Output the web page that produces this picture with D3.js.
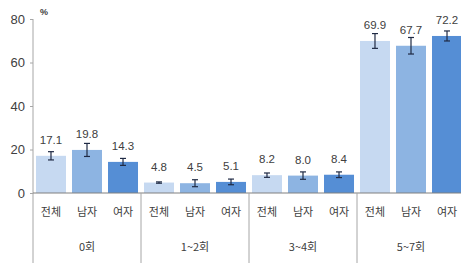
<!DOCTYPE html>
<html>
<head>
<meta charset="utf-8">
<script src="https://cdn.jsdelivr.net/npm/d3@7"></script>
<style>
  body { margin: 0; background: #fff; }
  text { font-family: "Liberation Sans Narrow", "Liberation Sans", Arial, sans-serif; }
  .kr { font-family: "Noto Sans CJK KR", sans-serif; }
</style>
</head>
<body>
<div class="chart"></div>
<script>
// categories
var groups = ["0회", "1~2회", "3~4회", "5~7회"];
var genders = ["전체", "남자", "여자"];
// values (%) per group, in gender order
var values = [
  [17.1, 19.8, 14.3],
  [4.8, 4.5, 5.1],
  [8.2, 8.0, 8.4],
  [69.9, 67.7, 72.2]
];
// half width of the error bars
var errors = [
  [1.9, 3.0, 1.6],
  [0.3, 1.6, 1.3],
  [1.0, 1.7, 1.3],
  [3.4, 3.8, 2.3]
];
var yTicks = [0, 20, 40, 60, 80];

var width = 461, height = 263;

var svg = d3.select(".chart")
  .append("svg")
  .attr("width", width)
  .attr("height", height);

var color = d3.scaleOrdinal()
  .domain(genders)
  .range(["#C6D9F1", "#8DB4E2", "#558ED5"]);

var x0 = d3.scaleBand().domain(groups).range([33, 465]).padding(0);
var x1 = d3.scaleBand().domain(genders).range([0, x0.bandwidth()])
  .paddingInner(0.167).paddingOuter(0.083);
var y = d3.scaleLinear().domain([0, 80]).range([193, 19]);

// flatten for drawing
var data = [];
groups.forEach(function (g, i) {
  genders.forEach(function (s, j) {
    data.push({ group: g, gender: s, value: values[i][j], err: errors[i][j] });
  });
});

// y axis
var yAxis = svg.append("g")
  .attr("transform", "translate(33,0)")
  .call(d3.axisLeft(y).tickValues(yTicks).tickSize(3).tickPadding(5));
yAxis.select(".domain").attr("stroke", "#A6A6A6").attr("d", "M0,19V263");
yAxis.selectAll(".tick line").attr("stroke", "#A6A6A6");
yAxis.selectAll(".tick text")
  .attr("fill", "#404040")
  .style("font-size", "13px")
  .style("font-family", "'Liberation Sans Narrow', 'Liberation Sans', Arial, sans-serif");

svg.append("text")
  .attr("x", 40).attr("y", 15)
  .attr("fill", "#404040")
  .style("font-size", "9px")
  .style("font-weight", "bold")
  .text("%");

// bars
svg.append("g").selectAll("rect")
  .data(data)
  .enter().append("rect")
  .attr("x", function (d) { return x0(d.group) + x1(d.gender); })
  .attr("y", function (d) { return y(d.value); })
  .attr("width", x1.bandwidth())
  .attr("height", function (d) { return y(0) - y(d.value); })
  .attr("fill", function (d) { return color(d.gender); });

// baseline + group separators
svg.append("line")
  .attr("x1", 33).attr("x2", width)
  .attr("y1", y(0)).attr("y2", y(0))
  .attr("stroke", "#808080").attr("stroke-width", 1.2);

svg.append("g").selectAll("line")
  .data(groups.slice(1))
  .enter().append("line")
  .attr("x1", function (d) { return x0(d); })
  .attr("x2", function (d) { return x0(d); })
  .attr("y1", y(0)).attr("y2", height)
  .attr("stroke", "#A6A6A6");

// error bars
var eb = svg.append("g").selectAll("g")
  .data(data)
  .enter().append("g")
  .attr("stroke", "#1F2A44")
  .attr("stroke-width", 1.2);
eb.append("line")
  .attr("x1", function (d) { return x0(d.group) + x1(d.gender) + x1.bandwidth() / 2; })
  .attr("x2", function (d) { return x0(d.group) + x1(d.gender) + x1.bandwidth() / 2; })
  .attr("y1", function (d) { return y(d.value - d.err); })
  .attr("y2", function (d) { return y(d.value + d.err); });
[-1, 1].forEach(function (s) {
  eb.append("line")
    .attr("x1", function (d) { return x0(d.group) + x1(d.gender) + x1.bandwidth() / 2 - 3; })
    .attr("x2", function (d) { return x0(d.group) + x1(d.gender) + x1.bandwidth() / 2 + 3; })
    .attr("y1", function (d) { return y(d.value + s * d.err); })
    .attr("y2", function (d) { return y(d.value + s * d.err); });
});

// value labels
svg.append("g").selectAll("text")
  .data(data)
  .enter().append("text")
  .attr("x", function (d) { return x0(d.group) + x1(d.gender) + x1.bandwidth() / 2; })
  .attr("y", function (d) { return y(d.value) - 12; })
  .attr("text-anchor", "middle")
  .attr("fill", "#404040")
  .style("font-size", "11.5px")
  .text(function (d) { return d.value.toFixed(1); });

// gender labels
svg.append("g").selectAll("text")
  .data(data)
  .enter().append("text")
  .attr("class", "kr")
  .attr("x", function (d) { return x0(d.group) + x1(d.gender) + x1.bandwidth() / 2; })
  .attr("y", 216)
  .attr("text-anchor", "middle")
  .attr("fill", "#404040")
  .style("font-size", "11px")
  .text(function (d) { return d.gender; });

// group labels
svg.append("g").selectAll("text")
  .data(groups)
  .enter().append("text")
  .attr("class", "kr")
  .attr("x", function (d) { return x0(d) + x0.bandwidth() / 2; })
  .attr("y", 251)
  .attr("text-anchor", "middle")
  .attr("fill", "#404040")
  .style("font-size", "11px")
  .text(function (d) { return d; });
</script>
</body>
</html>
